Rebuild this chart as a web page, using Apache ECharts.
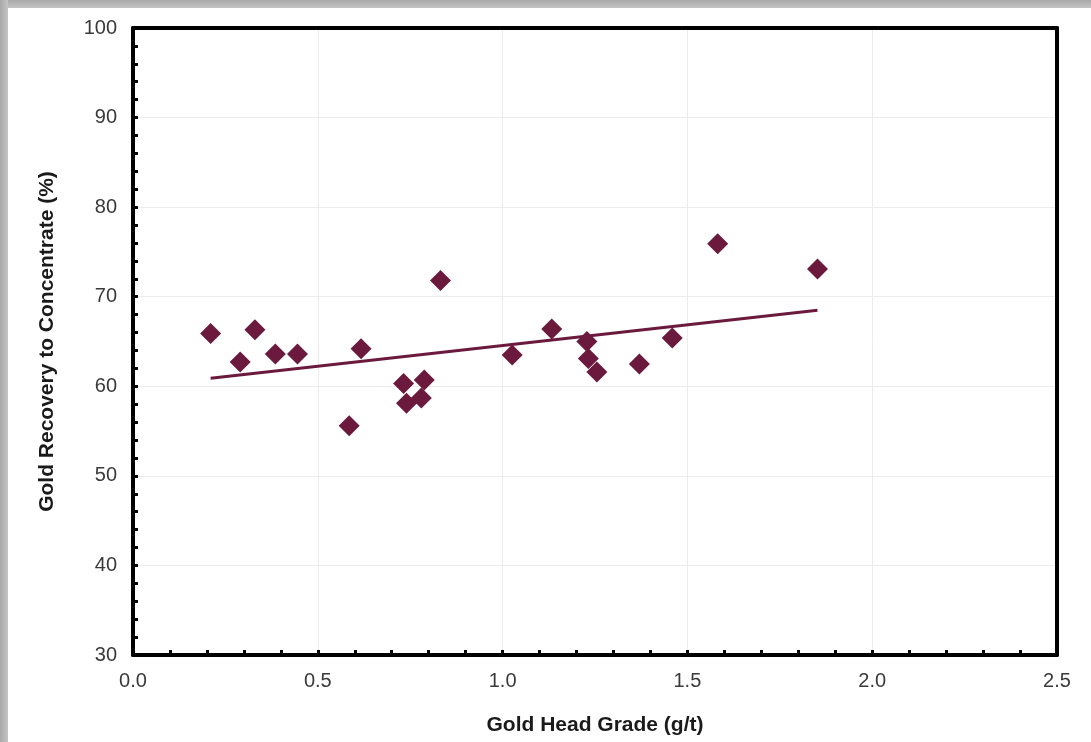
<!DOCTYPE html>
<html>
<head>
<meta charset="utf-8">
<script src="https://cdn.jsdelivr.net/npm/echarts@6/dist/echarts.min.js"></script>
<style>
  html, body { margin: 0; padding: 0; background: #ffffff; }
  #chart { width: 1091px; height: 742px; }
</style>
</head>
<body>
<div id="chart"></div>
<script>
// Gold head grade (g/t) of each test sample
const headGrade = [0.21, 0.29, 0.33, 0.385, 0.445, 0.585, 0.617, 0.732, 0.74, 0.78, 0.788,
  0.832, 1.026, 1.133, 1.228, 1.232, 1.255, 1.37, 1.459, 1.582, 1.852];
// Gold recovery to concentrate (%) of each sample
const recovery = [65.9, 62.7, 66.3, 63.6, 63.6, 55.6, 64.2, 60.3, 58.1, 58.7, 60.7,
  71.8, 63.5, 66.4, 65.0, 63.1, 61.6, 62.5, 65.4, 75.9, 73.1];
// Linear trend line end points (head grade, recovery)
const trendX = [0.21, 1.852];
const trendY = [60.9, 68.5];

const markColor = '#6b1a3e';

const points = headGrade.map((g, i) => [g, recovery[i]]);
const trend = trendX.map((g, i) => [g, trendY[i]]);

const chart = echarts.init(document.getElementById('chart'), null, { renderer: 'canvas' });

const tickFont = { fontFamily: 'Liberation Sans, Arial, sans-serif', fontSize: 20, color: '#3a3a3a' };
const nameFont = { fontFamily: 'Liberation Sans, Arial, sans-serif', fontSize: 21, fontWeight: 'bold', color: '#1a1a1a' };
const frameLine = { show: true, onZero: false, lineStyle: { color: '#000', width: 4 } };

// plain axes on the top and right that close the plot frame
const frameAxis = {
  type: 'value', axisLine: frameLine, axisTick: { show: false },
  axisLabel: { show: false }, splitLine: { show: false }, z: 5
};

chart.setOption({
  animation: false,
  backgroundColor: '#ffffff',
  graphic: [
    // grey frame edges along the top and left of the page
    { type: 'rect', left: 0, top: 0, shape: { width: 1091, height: 8 },
      style: { fill: new echarts.graphic.LinearGradient(0, 0, 0, 1, [
        { offset: 0, color: '#a9a9a9' }, { offset: 1, color: '#c4c4c4' }]) }, silent: true },
    { type: 'rect', left: 0, top: 0, shape: { width: 8, height: 742 },
      style: { fill: new echarts.graphic.LinearGradient(0, 0, 1, 0, [
        { offset: 0, color: '#a9a9a9' }, { offset: 1, color: '#c4c4c4' }]) }, silent: true }
  ],
  grid: { left: 133, top: 28, right: 34, bottom: 87 },
  xAxis: [{
    type: 'value', min: 0, max: 2.5, interval: 0.5,
    name: 'Gold Head Grade (g/t)', nameLocation: 'middle', nameGap: 60,
    nameTextStyle: nameFont,
    axisLine: frameLine,
    axisTick: { show: true, inside: true, length: 5, lineStyle: { color: '#000', width: 3 } },
    minorTick: { show: true, splitNumber: 5, length: 5, lineStyle: { color: '#000', width: 3 } },
    axisLabel: Object.assign({ margin: 16, formatter: v => v.toFixed(1) }, tickFont),
    splitLine: { show: true, lineStyle: { color: '#ececec', width: 1 } }
  }, Object.assign({ position: 'top', min: 0, max: 2.5 }, frameAxis)],
  yAxis: [{
    type: 'value', min: 30, max: 100, interval: 10,
    name: 'Gold Recovery to Concentrate (%)', nameLocation: 'middle', nameGap: 75,
    nameTextStyle: nameFont,
    axisLine: frameLine,
    axisTick: { show: true, inside: true, length: 5, lineStyle: { color: '#000', width: 3 } },
    minorTick: { show: true, splitNumber: 5, length: 5, lineStyle: { color: '#000', width: 3 } },
    axisLabel: Object.assign({ margin: 16 }, tickFont),
    splitLine: { show: true, lineStyle: { color: '#ececec', width: 1 } }
  }, Object.assign({ position: 'right', min: 30, max: 100 }, frameAxis)],
  series: [
    {
      name: 'Trend', type: 'line', data: trend, symbol: 'none',
      lineStyle: { color: markColor, width: 3 }, z: 2
    },
    {
      name: 'Samples', type: 'scatter', data: points, symbol: 'diamond', symbolSize: 21,
      itemStyle: { color: markColor, opacity: 1 }, z: 3
    }
  ]
});
</script>
</body>
</html>
